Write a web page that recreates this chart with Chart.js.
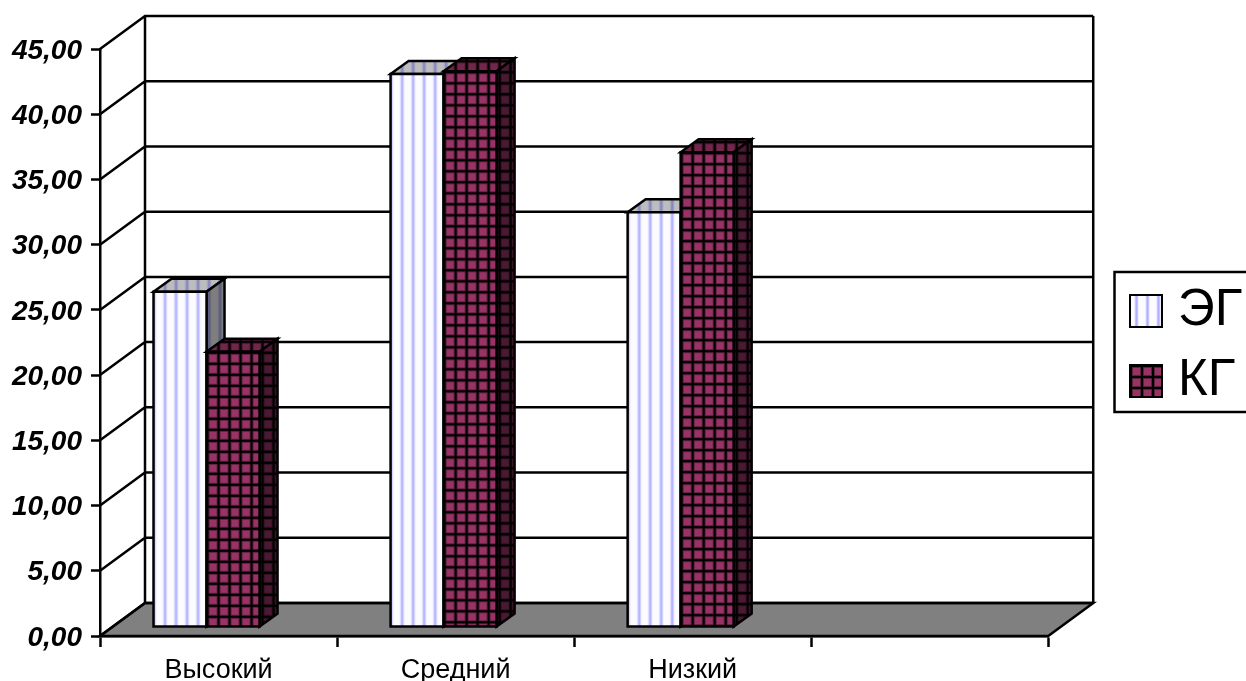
<!DOCTYPE html>
<html>
<head>
<meta charset="utf-8">
<style>html,body{margin:0;padding:0;background:#fff;overflow:hidden}canvas{display:block}</style>
<script src="https://cdn.jsdelivr.net/npm/chart.js@4"></script>
</head>
<body>
<canvas id="c" width="1246" height="681"></canvas>
<script>
const categories = ['Высокий', 'Средний', 'Низкий', ''];
const seriesNames = ['ЭГ', 'КГ'];
const egValues = [25.7, 42.4, 31.8];
const kgValues = [21.1, 42.6, 36.4];
const yTicks = [0, 5, 10, 15, 20, 25, 30, 35, 40, 45];

// Oblique projection: wall offset and the offsets of the bars and their depth
const WALL = { dx: 45, dy: -33 };
const BAR_SHIFT = { dx: -12, dy: -9 };
const BAR_DEPTH = { dx: 18, dy: -13 };
const LINE = 2.5;
const LEGEND_BOX = { left: 1114.5, top: 272, right: 1260, bottom: 412 };

function tile(w, h, paint) {
  const t = document.createElement('canvas');
  t.width = w; t.height = h;
  paint(t.getContext('2d'));
  return t;
}
const stripeTile = tile(11, 11, g => {
  g.fillStyle = '#fcfcff'; g.fillRect(0, 0, 11, 11);
  g.fillStyle = '#eeeeff'; g.fillRect(9, 0, 1, 11); g.fillRect(2, 0, 1, 11);
  g.fillStyle = '#c6c6ff'; g.fillRect(10, 0, 1, 11); g.fillRect(1, 0, 1, 11);
  g.fillStyle = '#b0b0ff'; g.fillRect(0, 0, 1, 11);
});
const gridTile = tile(11, 11, g => {
  g.fillStyle = '#000'; g.fillRect(0, 0, 11, 11);
  g.fillStyle = '#5c1f3d'; g.fillRect(2, 2, 9, 9);
  g.fillStyle = '#993366'; g.fillRect(3, 3, 7, 7);
});
const ctx0 = document.getElementById('c').getContext('2d');
const stripePattern = ctx0.createPattern(stripeTile, 'repeat');
const gridPattern = ctx0.createPattern(gridTile, 'repeat');
const patterns = [stripePattern, gridPattern];

function swatch(pattern, shift) {
  return tile(34, 34, g => {
    pattern.setTransform(new DOMMatrix().translate(shift, shift));
    g.fillStyle = pattern; g.fillRect(0, 0, 34, 34);
    g.strokeStyle = '#000'; g.lineWidth = 2; g.strokeRect(1, 1, 32, 32);
  });
}
const legendMarks = [swatch(stripePattern, 7), swatch(gridPattern, 1)];

function poly(ctx, pts, fill, stroke) {
  ctx.beginPath();
  pts.forEach((p, i) => i ? ctx.lineTo(p[0], p[1]) : ctx.moveTo(p[0], p[1]));
  ctx.closePath();
  if (fill) { ctx.fillStyle = fill; ctx.fill(); }
  if (stroke) { ctx.strokeStyle = stroke; ctx.lineWidth = LINE; ctx.stroke(); }
}

// Arial-style digits sit a little below the tick they label
function lowerLabels(scale, amount) {
  if (scale.$lowered) return;
  scale.$lowered = true;
  const compute = scale._computeLabelItems;
  scale._computeLabelItems = function (area) {
    const items = compute.call(this, area);
    items.forEach(item => { item.options.translation[1] += amount; });
    return items;
  };
}

const perspective = {
  id: 'perspective',
  afterLayout(chart) {
    // The legend sits apart from the plot, beyond the floor's far corner
    const l = chart.legend;
    l.left = 1120.5; l.right = 1270; l.width = 149.5;
    l.top = 5.5; l.bottom = 686.5; l.height = 681;
  },
  beforeDatasetsDraw(chart) {
    const { ctx, chartArea: a, scales: { y } } = chart;
    ctx.save();
    ctx.lineJoin = 'miter';
    const yb = y.getPixelForValue(0);
    const yt = y.getPixelForValue(45);
    poly(ctx, [[a.left, yb], [a.left + WALL.dx, yb + WALL.dy], [a.right + WALL.dx, yb + WALL.dy], [a.right, yb]], '#808080', '#000');
    ctx.strokeStyle = '#000';
    ctx.lineWidth = LINE;
    ctx.beginPath();
    yTicks.forEach(v => {
      const py = y.getPixelForValue(v);
      ctx.moveTo(a.left, py);
      ctx.lineTo(a.left + WALL.dx, py + WALL.dy);
      ctx.lineTo(a.right + WALL.dx, py + WALL.dy);
    });
    ctx.moveTo(a.left + WALL.dx, yb + WALL.dy);
    ctx.lineTo(a.left + WALL.dx, yt + WALL.dy);
    ctx.moveTo(a.right + WALL.dx, yb + WALL.dy);
    ctx.lineTo(a.right + WALL.dx, yt + WALL.dy);
    ctx.stroke();
    ctx.restore();
  },
  beforeDatasetDraw() {
    // Bars are painted below, series by series, together with their 3D faces
    return false;
  },
  afterDatasetsDraw(chart) {
    const { ctx } = chart;
    ctx.save();
    ctx.translate(BAR_SHIFT.dx, BAR_SHIFT.dy);
    ctx.lineJoin = 'miter';
    seriesNames.forEach((_, i) => {
      const pattern = patterns[i];
      chart.getDatasetMeta(i).data.forEach(el => {
        if (!Number.isFinite(el.y) || el.skip) return;
        const l = el.x - el.width / 2, r = el.x + el.width / 2, t = el.y, b = el.base;
        const d = BAR_DEPTH;
        pattern.setTransform(new DOMMatrix().translate(l, t));
        const top = [[l, t], [l + d.dx, t + d.dy], [r + d.dx, t + d.dy], [r, t]];
        const side = [[r, t], [r + d.dx, t + d.dy], [r + d.dx, b + d.dy], [r, b]];
        poly(ctx, top, pattern);
        poly(ctx, top, 'rgba(0,0,0,0.25)', '#000');
        poly(ctx, side, pattern);
        poly(ctx, side, 'rgba(0,0,0,0.5)', '#000');
        el.draw(ctx, chart.chartArea);
        poly(ctx, [[l, t], [r, t], [r, b], [l, b]], null, '#000');
      });
    });
    ctx.restore();
  },
  afterDraw(chart) {
    const { ctx } = chart;
    const b = LEGEND_BOX;
    ctx.save();
    ctx.strokeStyle = '#000';
    ctx.lineWidth = LINE;
    ctx.strokeRect(b.left, b.top, b.right - b.left, b.bottom - b.top);
    ctx.restore();
  }
};

new Chart(document.getElementById('c'), {
  type: 'bar',
  data: {
    labels: categories,
    datasets: [
      { label: seriesNames[0], data: egValues, backgroundColor: stripePattern, borderWidth: 0 },
      { label: seriesNames[1], data: kgValues, backgroundColor: gridPattern, borderWidth: 0 }
    ]
  },
  plugins: [perspective],
  options: {
    responsive: false,
    animation: false,
    events: [],
    datasets: { bar: { categoryPercentage: 106 / 237, barPercentage: 1, inflateAmount: 0 } },
    layout: { padding: { top: 49, left: 0, right: 66, bottom: 0 } },
    scales: {
      x: {
        afterFit(s) { s.height = 45; },
        grid: { drawOnChartArea: false, tickLength: 11, tickWidth: LINE, tickColor: '#000' },
        border: { color: '#000', width: LINE },
        ticks: { color: '#000', font: { family: 'Liberation Sans', size: 27 }, padding: 7, maxRotation: 0, autoSkip: false }
      },
      y: {
        min: 0, max: 45,
        afterFit(s) { s.width = 100; lowerLabels(s, 2); },
        afterBuildTicks(s) { s.ticks = yTicks.map(value => ({ value })); },
        grid: { drawOnChartArea: false, tickLength: 9, tickWidth: LINE, tickColor: '#000' },
        border: { color: '#000', width: LINE },
        ticks: {
          color: '#000', padding: 9,
          font: { family: 'Liberation Sans', size: 28, weight: 'bold', style: 'italic' },
          callback: v => v.toFixed(2).replace('.', ',')
        }
      }
    },
    plugins: {
      tooltip: { enabled: false },
      title: { display: false },
      legend: {
        display: true,
        position: 'right',
        align: 'center',
        labels: {
          color: '#000',
          font: { family: 'Liberation Sans', size: 51 },
          usePointStyle: true,
          pointStyleWidth: 13,
          padding: 19,
          generateLabels: () => seriesNames.map((text, i) => ({
            text, datasetIndex: i, pointStyle: legendMarks[i], fontColor: '#000', hidden: false
          }))
        }
      }
    }
  }
});
</script>
</body>
</html>
